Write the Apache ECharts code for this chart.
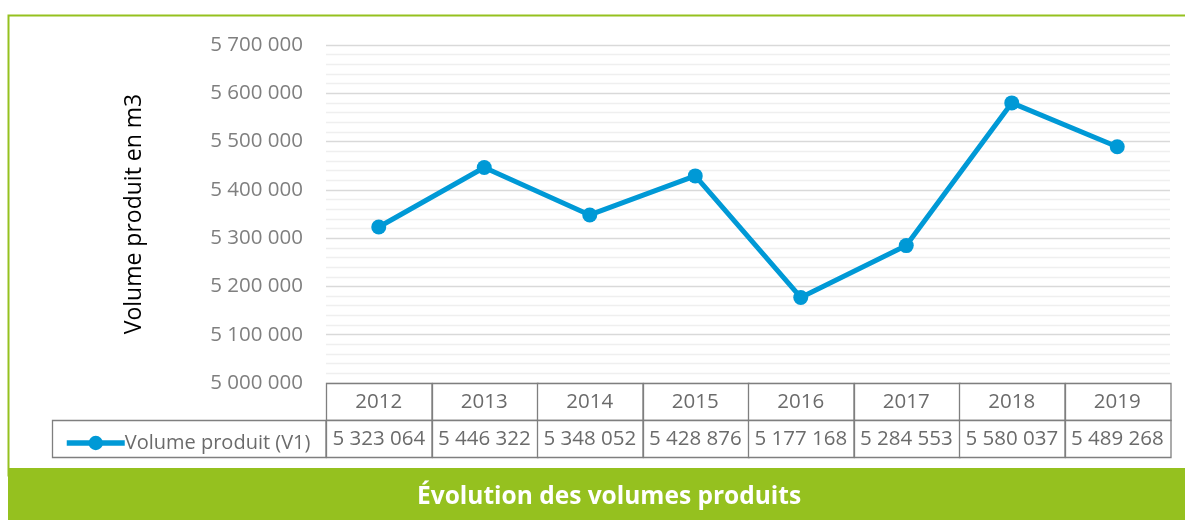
<!DOCTYPE html>
<html>
<head>
<meta charset="utf-8">
<script src="https://cdn.jsdelivr.net/npm/echarts@6/dist/echarts.min.js"></script>
<style>
  html, body { margin: 0; padding: 0; background: #fff; }
  #chart { width: 1185px; height: 520px; }
</style>
</head>
<body>
<div id="chart"></div>
<script>
// données
const years = ['2012', '2013', '2014', '2015', '2016', '2017', '2018', '2019'];
const volumes = [5323064, 5446322, 5348052, 5428876, 5177168, 5284553, 5580037, 5489268];
const seriesName = 'Volume produit (V1)';
const axisName = 'Volume produit en m3';
const titleText = 'Évolution des volumes produits';

const green = '#95c11f';
const blue = '#0099d6';
const grey = '#7f7f7f';
const fontFamily = '"Open Sans", "Noto Sans", sans-serif';

// séparateur de milliers avec espace
const fmt = (v) => String(v).replace(/\B(?=(\d{3})+(?!\d))/g, ' ');

// cellules du tableau : ligne 0 = années, ligne 1 = valeurs
const tableCells = [];
years.forEach((y, i) => {
  tableCells.push([i, 0, y]);
  tableCells.push([i, 1, fmt(volumes[i])]);
});

const chart = echarts.init(document.getElementById('chart'));

const option = {
  backgroundColor: '#fff',
  animation: false,
  textStyle: { fontFamily: fontFamily },
  title: {
    text: titleText,
    left: 412,
    top: 480,
    textStyle: { color: '#fff', fontSize: 24.5, fontWeight: 'bold', fontFamily: fontFamily }
  },
  legend: {
    left: 59,
    top: 428,
    itemWidth: 58,
    itemHeight: 18,
    itemGap: 0,
    data: [seriesName],
    lineStyle: { width: 5.5 },
    textStyle: { color: '#6b6b6b', fontSize: 20, fontFamily: fontFamily, padding: [0, 0, 0, -5] }
  },
  graphic: [
    {
      type: 'rect',
      z: -10,
      shape: { x: 8.5, y: 15.5, width: 1200, height: 460 },
      style: { fill: 'none', stroke: green, lineWidth: 2 }
    },
    {
      type: 'rect',
      z: -5,
      shape: { x: 8, y: 468, width: 1200, height: 60 },
      style: { fill: green }
    },
    {
      type: 'rect',
      z: -5,
      shape: { x: 52.5, y: 420.5, width: 273.5, height: 37 },
      style: { fill: '#fff', stroke: grey, lineWidth: 1.3 }
    }
  ],
  grid: [
    { left: 326, right: 15, top: 45, height: 338 },
    { left: 326, right: 15, top: 383, height: 74 }
  ],
  xAxis: [
    {
      gridIndex: 0,
      type: 'category',
      data: years,
      axisLine: { show: false },
      axisTick: { show: false },
      axisLabel: { show: false }
    },
    {
      gridIndex: 1,
      type: 'category',
      data: years,
      show: false
    }
  ],
  yAxis: [
    {
      gridIndex: 0,
      type: 'value',
      min: 5000000,
      max: 5700000,
      interval: 100000,
      name: axisName,
      nameLocation: 'middle',
      nameGap: 180,
      nameRotate: 90,
      nameTextStyle: { color: '#000', fontSize: 23, fontFamily: fontFamily },
      axisLine: { show: false },
      axisTick: { show: false },
      axisLabel: { color: grey, fontSize: 20.5, margin: 23, formatter: fmt },
      splitLine: { lineStyle: { color: '#d9d9d9', width: 1.3 } },
      minorTick: { show: false, splitNumber: 5 },
      minorSplitLine: { show: true, lineStyle: { color: '#efefef', width: 1.3 } }
    },
    {
      gridIndex: 1,
      type: 'category',
      data: ['annee', 'valeur'],
      inverse: true,
      show: false
    }
  ],
  series: [
    {
      name: seriesName,
      type: 'line',
      xAxisIndex: 0,
      yAxisIndex: 0,
      data: volumes,
      symbol: 'circle',
      symbolSize: 15,
      lineStyle: { color: blue, width: 5 },
      itemStyle: { color: blue }
    },
    {
      type: 'custom',
      xAxisIndex: 1,
      yAxisIndex: 1,
      data: tableCells,
      silent: true,
      renderItem: (params, api) => {
        const c = api.coord([api.value(0), api.value(1)]);
        const s = api.size([1, 1]);
        const cell = tableCells[params.dataIndex];
        return {
          type: 'group',
          children: [
            {
              type: 'rect',
              shape: { x: Math.round(c[0] - s[0] / 2) + 0.5, y: Math.round(c[1] - s[1] / 2) + 0.5, width: s[0], height: s[1] },
              style: { fill: '#fff', stroke: grey, lineWidth: 1.3 }
            },
            {
              type: 'text',
              x: c[0],
              y: c[1] + 1,
              style: {
                text: cell[2],
                fill: '#6b6b6b',
                fontSize: 20.5,
                fontFamily: fontFamily,
                align: 'center',
                verticalAlign: 'middle'
              }
            }
          ]
        };
      }
    }
  ]
};

chart.setOption(option);
</script>
</body>
</html>
